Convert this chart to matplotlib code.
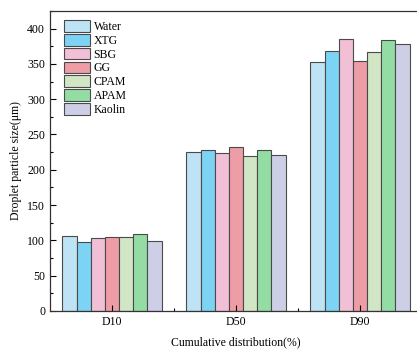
"""
Grouped bar chart of droplet particle size by cumulative distribution.
"""
import numpy as np
import matplotlib.pyplot as plt
from matplotlib.ticker import MultipleLocator, FixedLocator

# Data
groups = ['D10', 'D50', 'D90']
series = ['Water', 'XTG', 'SBG', 'GG', 'CPAM', 'APAM', 'Kaolin']
water = [106, 224.5, 352.7]
xtg = [97.4, 227.4, 368]
sbg = [103, 223.6, 385]
gg = [105, 231.7, 354.6]
cpam = [104.5, 219.9, 366.4]
apam = [109, 227.4, 383.4]
kaolin = [99, 221.3, 377.7]
values = [water, xtg, sbg, gg, cpam, apam, kaolin]

colors = ['#BEE3F4', '#7DD3F3', '#F1BFD6', '#EE9CA5', '#D0E6C5', '#93DDA4', '#CDCFE6']

plt.rcParams['font.family'] = ['Liberation Serif', 'DejaVu Serif']
plt.rcParams['font.size'] = 8.5

fig = plt.figure(figsize=(4.17, 3.53), dpi=100)
ax = fig.add_axes([0.12, 0.119, 0.892, 0.85])

x = np.arange(len(groups))
n = len(series)
width = 0.8 / n
for i, (name, vals) in enumerate(zip(series, values)):
    offset = (i - (n - 1) / 2) * width
    ax.bar(x + offset, vals, width, color=colors[i], edgecolor='#4a4a4a',
           linewidth=0.8, label=name)

ax.set_xlim(-0.5, 2.5)
ax.set_ylim(0, 425)
ax.set_xticks(x)
ax.set_xticklabels(groups)
ax.xaxis.set_minor_locator(FixedLocator([0.5, 1.5]))
ax.yaxis.set_major_locator(MultipleLocator(50))
ax.yaxis.set_minor_locator(MultipleLocator(25))
ax.tick_params(which='both', direction='in', top=False, right=False)
ax.tick_params(which='major', length=4, width=0.8)
ax.tick_params(which='minor', length=2.5, width=0.8)
for side in ax.spines.values():
    side.set_linewidth(0.9)
    side.set_color('#333333')

ax.set_xlabel('Cumulative distribution(%)', labelpad=6)
ax.set_ylabel('Droplet particle size(μm)', labelpad=4)

ax.legend(loc='upper left', bbox_to_anchor=(0.025, 0.985), frameon=False,
          handlelength=2.2, handleheight=1.15, labelspacing=0.08,
          handletextpad=0.3, borderaxespad=0, fontsize=8.5)

fig.savefig('out.png', dpi=100)
